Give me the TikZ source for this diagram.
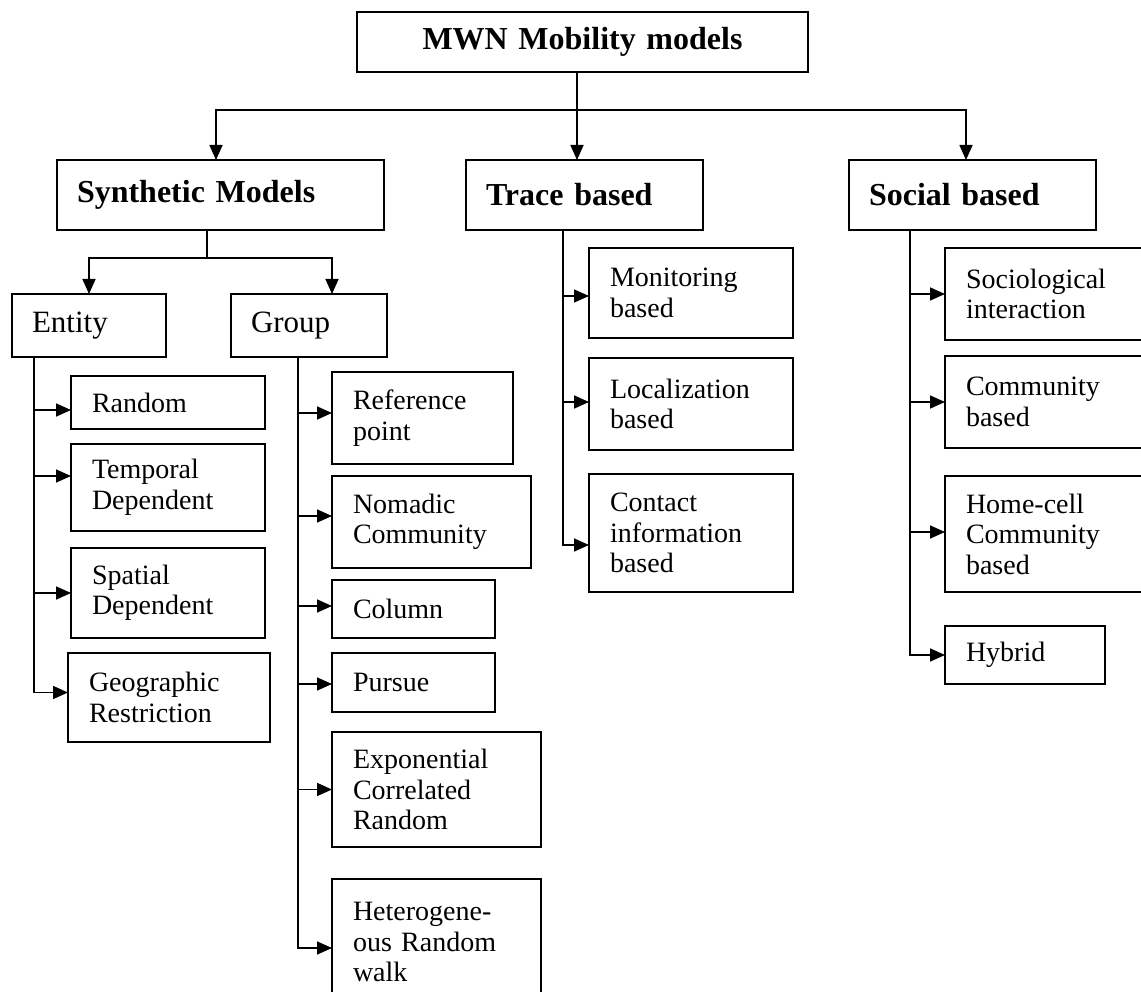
\documentclass[tikz,border=0pt]{standalone}
\usepackage{fontspec}
\setmainfont{Liberation Serif}
\usetikzlibrary{arrows.meta}
\begin{document}
\begin{tikzpicture}[x=1pt,y=-1pt,
  box/.style={draw, line width=1.8pt, anchor=north west, inner ysep=0pt, outer sep=0pt, align=left},
  sub/.style={box, inner xsep=21pt, font=\fontsize{28}{30.5}\selectfont},
  head/.style={box, inner xsep=20pt, font=\fontsize{32}{36}\selectfont\bfseries},
  mid/.style={box, inner xsep=20pt, font=\fontsize{31}{34}\selectfont},
  conn/.style={line width=1.7pt},
  arr/.style={conn, -{Triangle[length=15pt,width=13pt]}}]
\useasboundingbox (0,0) rectangle (1141,992);
% top
\node[box, align=center, inner xsep=20pt, text width=411pt, minimum height=60pt,
  font=\fontsize{32}{36}\selectfont\bfseries] (top) at (357,12) {MWN Mobility models};
% level 2
\node[head, text width=287pt, minimum height=70pt] (syn) at (57,160) {Synthetic Models};
\node[head, text width=197pt, minimum height=70pt] (trace) at (466,160) {Trace based};
\node[head, text width=207pt, minimum height=70pt] (social) at (849,160) {Social based};
% level 3
\node[mid, text width=114pt, minimum height=63pt] (entity) at (12,294) {Entity};
\node[mid, text width=116pt, minimum height=63pt] (group) at (231,294) {Group};
% entity children
\node[sub, text width=152pt, minimum height=53pt] (random) at (71,376) {Random};
\node[sub, text width=152pt, minimum height=87pt] (temporal) at (71,444) {Temporal\\Dependent};
\node[sub, text width=152pt, minimum height=90pt] (spatial) at (71,548) {Spatial\\Dependent};
\node[sub, text width=160pt, minimum height=89pt] (geo) at (68,653) {Geographic\\Restriction};
% group children
\node[sub, text width=139pt, minimum height=92pt] (refp) at (332,372) {Reference\\point};
\node[sub, text width=157pt, minimum height=92pt] (nomadic) at (332,476) {Nomadic\\Community};
\node[sub, text width=121pt, minimum height=58pt] (column) at (332,580) {Column};
\node[sub, text width=121pt, minimum height=59pt] (pursue) at (332,653) {Pursue};
\node[sub, text width=167pt, minimum height=115pt] (expo) at (332,732) {Exponential\\Correlated\\Random};
\node[sub, text width=167pt, minimum height=126pt] (hetero) at (332,879) {Heterogene-\\ous Random\\walk};
% trace children
\node[sub, text width=162pt, minimum height=90pt] (monit) at (589,248) {Monitoring\\based};
\node[sub, text width=162pt, minimum height=92pt] (local) at (589,358) {Localization\\based};
\node[sub, text width=162pt, minimum height=118pt] (contact) at (589,474) {Contact\\information\\based};
% social children
\node[sub, text width=173pt, minimum height=92pt] (socio) at (945,248) {Sociological\\interaction};
\node[sub, text width=173pt, minimum height=92pt] (commun) at (945,356) {Community\\based};
\node[sub, text width=173pt, minimum height=116pt] (homecell) at (945,476) {Home-cell\\Community\\based};
\node[sub, text width=118pt, minimum height=58pt] (hybrid) at (945,626) {Hybrid};
% top connectors
\coordinate (j) at (577,110);
\draw[conn] ([xshift=-5.5pt]top.south) -- (j);
\draw[arr] (j) -- (j |- trace.north);
\draw[arr] (j) -| ([xshift=-4.5pt]syn.north);
\draw[arr] (j) -| ([xshift=-6.5pt]social.north);
% synthetic
\coordinate (sj) at ([xshift=150pt]syn.south west);
\coordinate (sh) at (207,258);
\draw[conn] (sj) -- (sh);
\draw[arr] (sh) -| (entity.north);
\draw[arr] (sh) -| ([xshift=23pt]group.north);
% entity spine
\coordinate (es) at ([xshift=22pt]entity.south west);
\coordinate (a1) at ([yshift=-7.5pt]random.west);
\coordinate (a2) at ([yshift=11.5pt]temporal.west);
\coordinate (a3) at (spatial.west);
\coordinate (a4) at ([yshift=5pt]geo.west);
\draw[arr] (es |- a1) -- (a1);
\draw[arr] (es |- a2) -- (a2);
\draw[arr] (es |- a3) -- (a3);
\draw[arr] (es) |- (a4);
% group spine
\coordinate (gs) at ([xshift=67pt]group.south west);
\coordinate (b1) at ([yshift=5pt]refp.west);
\coordinate (b2) at ([yshift=6pt]nomadic.west);
\coordinate (b3) at ([yshift=3pt]column.west);
\coordinate (b4) at ([yshift=-1.5pt]pursue.west);
\coordinate (b5) at (expo.west);
\coordinate (b6) at ([yshift=-6pt]hetero.west);
\draw[arr] (gs |- b1) -- (b1);
\draw[arr] (gs |- b2) -- (b2);
\draw[arr] (gs |- b3) -- (b3);
\draw[arr] (gs |- b4) -- (b4);
\draw[arr] (gs |- b5) -- (b5);
\draw[arr] (gs) |- (b6);
% trace spine
\coordinate (ts) at ([xshift=97pt]trace.south west);
\coordinate (c1) at ([yshift=-3pt]monit.west);
\coordinate (c2) at ([yshift=2pt]local.west);
\coordinate (c3) at ([yshift=-12pt]contact.west);
\draw[arr] (ts |- c1) -- (c1);
\draw[arr] (ts |- c2) -- (c2);
\draw[arr] (ts) |- (c3);
% social spine
\coordinate (ss) at ([xshift=61pt]social.south west);
\coordinate (d1) at (socio.west);
\coordinate (d2) at (commun.west);
\coordinate (d3) at ([yshift=2pt]homecell.west);
\coordinate (d4) at (hybrid.west);
\draw[arr] (ss |- d1) -- (d1);
\draw[arr] (ss |- d2) -- (d2);
\draw[arr] (ss |- d3) -- (d3);
\draw[arr] (ss) |- (d4);
\end{tikzpicture}
\end{document}
